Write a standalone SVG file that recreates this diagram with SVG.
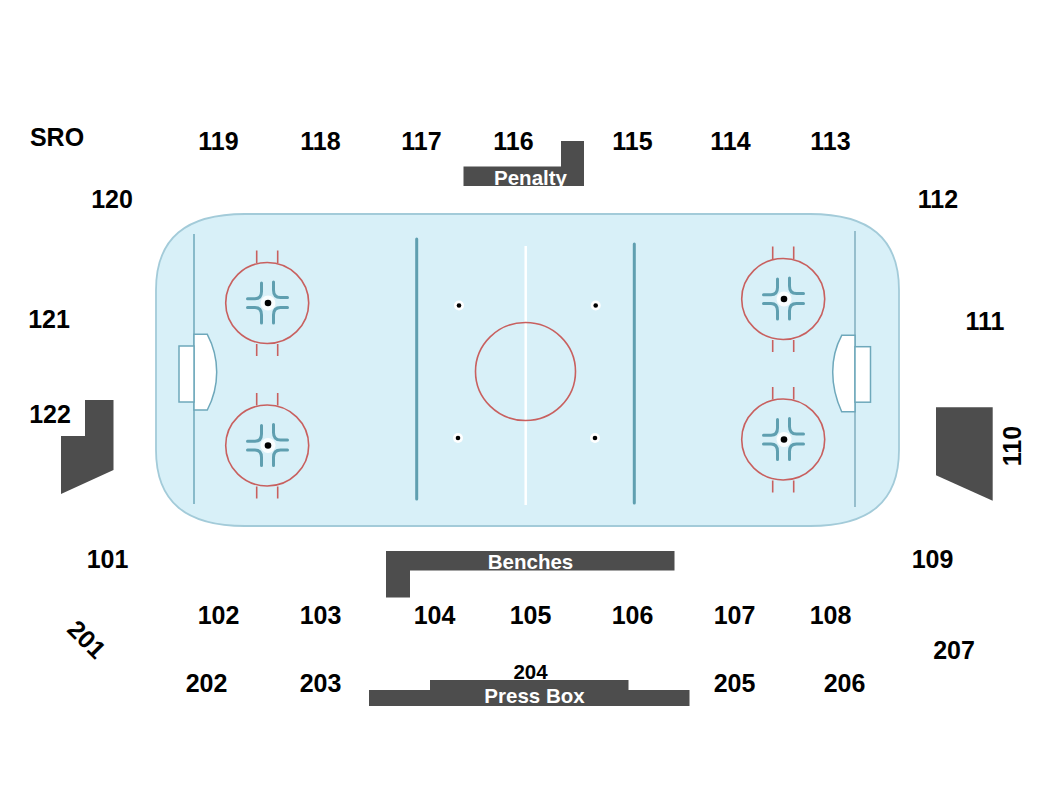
<svg xmlns="http://www.w3.org/2000/svg" xmlns:xlink="http://www.w3.org/1999/xlink" width="1050" height="800" viewBox="0 0 1050 800">
<style>
text{font-family:"Liberation Sans",Arial,sans-serif;font-weight:bold;text-anchor:middle;fill:#000}
.n{font-size:25px}
.w{font-size:20.500px;fill:#fff}
.seat{fill:#4d4d4d}
.red{fill:none;stroke:#c8605f;stroke-width:1.600}
.hash{fill:none;stroke:#5f9fb0;stroke-width:3;stroke-linecap:round}
.blue{stroke:#5f9fb0;stroke-width:3;stroke-linecap:round}
.thin{stroke:#6ea8bb;stroke-width:1.500;fill:#fff}
</style>
<defs>
<g id="faceoff">
<circle r="7.500" fill="#fff" opacity=".85"/>
<ellipse cx="-0.800" cy="0" rx="41.500" ry="40.500" class="red"/>
<path class="red" d="M-11.300-40V-52.500M9.700-40V-52.500M-11.300 41V53M9.700 41V53"/>
<path class="hash" d="M-20.500-4.300H-13Q-6.500-4.300-6.500-11.500V-20M19.500-5.500H12.500Q5.500-5.500 5.500-13V-21M-20.500 4.500H-13Q-6.500 4.500-6.500 12V20M19.500 4.500H12.500Q5.500 4.500 5.500 12V20"/>
<circle r="3.300" fill="#000"/>
</g>
<g id="spot"><circle r="5" fill="#fff"/><circle r="2.300" fill="#000"/></g>
<clipPath id="penclip"><rect x="463" y="141" width="122" height="45"/></clipPath>
</defs>
<g id="rink">
<path d="M245 214H810C869 214 899 238 899 290V450C899 502 869 526 810 526H245C186 526 156 502 156 450V290C156 238 186 214 245 214Z" fill="#d8f0f8" stroke="#a3cbd9" stroke-width="1.800"/>
<path d="M194 234V504" stroke="#6ea8bb" stroke-width="1.500"/>
<path d="M855 231V507" stroke="#8fb9c8" stroke-width="1.800"/>
<path class="blue" d="M416.700 239V499M634.300 244V503"/>
<path d="M525.700 246V505" stroke="#fff" stroke-width="2.500"/>
<ellipse cx="525.500" cy="371.500" rx="50" ry="49" class="red"/>
<path class="thin" d="M194 334.300H207.300Q216.700 352 216.700 372Q216.700 392 207.300 410H194Z"/>
<rect class="thin" x="179" y="346" width="15" height="56"/>
<path class="thin" d="M855 335.300H841.700Q832.700 352 832.700 372Q832.700 392 841.700 411.700H855Z"/>
<rect class="thin" x="855" y="346.700" width="15.500" height="55.500"/>
<use xlink:href="#faceoff" href="#faceoff" x="268" y="303"/>
<use xlink:href="#faceoff" href="#faceoff" x="268" y="445.500"/>
<use xlink:href="#faceoff" href="#faceoff" x="784" y="299"/>
<use xlink:href="#faceoff" href="#faceoff" x="784" y="439.500"/>
<use xlink:href="#spot" href="#spot" x="459" y="305.500"/>
<use xlink:href="#spot" href="#spot" x="595.700" y="305.500"/>
<use xlink:href="#spot" href="#spot" x="458" y="438"/>
<use xlink:href="#spot" href="#spot" x="595" y="438"/>
</g>
<g id="penalty">
<path class="seat" d="M463.500 166.500H561V141H584V186H463.500Z"/>
<g clip-path="url(#penclip)"><text class="w" x="530.500" y="185">Penalty</text></g>
</g>
<g id="benches">
<path class="seat" d="M386 551H674.500V570.500H410V597.500H386Z"/>
<text class="w" x="530.500" y="569">Benches</text>
</g>
<g id="pressbox">
<path class="seat" d="M369 690H430V680H628.500V690H689.500V706H369Z"/>
<text class="w" x="534.500" y="703">Press Box</text>
<text x="530.500" y="678.500" font-size="20.500">204</text>
</g>
<g id="seat-110">
<path class="seat" d="M936 407.300H992.700V500.700L936 475.300Z"/>
<text class="n" transform="translate(1020.500 446) rotate(-90)">110</text>
</g>
<g id="seat-122">
<path class="seat" d="M85 400H113.500V470L61 494V436H85Z"/>
<text class="n" x="50" y="423">122</text>
</g>
<g id="labels">
<text class="n" x="57" y="146">SRO</text>
<text class="n" x="218.500" y="150">119</text>
<text class="n" x="320.500" y="150">118</text>
<text class="n" x="421.500" y="150">117</text>
<text class="n" x="513.500" y="150">116</text>
<text class="n" x="632.500" y="150">115</text>
<text class="n" x="730.500" y="150">114</text>
<text class="n" x="830.500" y="150">113</text>
<text class="n" x="112" y="208">120</text>
<text class="n" x="938" y="208">112</text>
<text class="n" x="49" y="328">121</text>
<text class="n" x="985" y="330">111</text>
<text class="n" x="107.500" y="568">101</text>
<text class="n" x="932.500" y="568">109</text>
<text class="n" x="218.500" y="624">102</text>
<text class="n" x="320.500" y="624">103</text>
<text class="n" x="434.500" y="624">104</text>
<text class="n" x="530.500" y="624">105</text>
<text class="n" x="632.500" y="624">106</text>
<text class="n" x="734.500" y="624">107</text>
<text class="n" x="830.500" y="624">108</text>
<text class="n" transform="translate(80.500 645.500) rotate(45)">201</text>
<text class="n" x="206.500" y="692">202</text>
<text class="n" x="320.500" y="692">203</text>
<text class="n" x="734.500" y="692">205</text>
<text class="n" x="844.500" y="692">206</text>
<text class="n" x="954" y="659">207</text>
</g>
</svg>
